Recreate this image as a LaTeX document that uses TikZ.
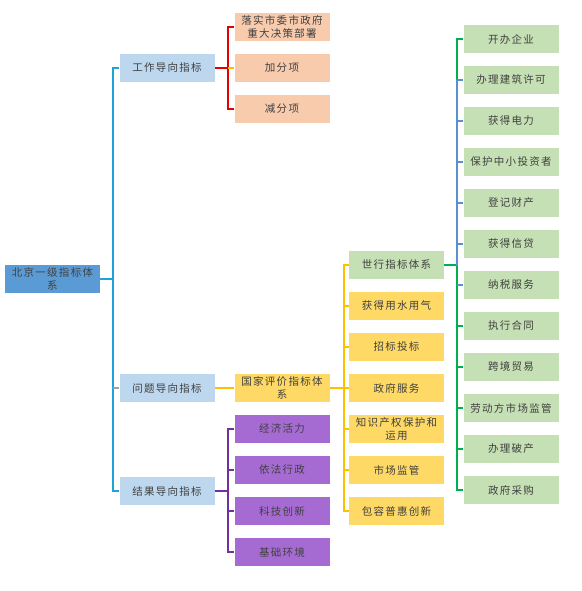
\documentclass[tikz,border=0pt]{standalone}
\usepackage{fontspec}
\newfontfamily\cjk[LetterSpace=12]{Noto Sans CJK SC}
\definecolor{rootc}{HTML}{5B9BD5}
\definecolor{lvone}{HTML}{BDD7EE}
\definecolor{orangec}{HTML}{F8CBAD}
\definecolor{yellowc}{HTML}{FFD966}
\definecolor{purplec}{HTML}{A66BD3}
\definecolor{greenc}{HTML}{C5E0B4}
\definecolor{txtc}{HTML}{404040}
\definecolor{cyanl}{HTML}{1FA2DC}
\definecolor{redl}{HTML}{E60000}
\definecolor{orangel}{HTML}{FFC000}
\definecolor{yellowl}{HTML}{FFC000}
\definecolor{purplel}{HTML}{7030A0}
\definecolor{greenl}{HTML}{00B050}
\definecolor{bluel}{HTML}{5B8FD0}
\definecolor{greyl}{HTML}{A0A0A0}
\begin{document}
\begin{tikzpicture}[x=1pt,y=-1pt,
  box/.style={minimum width=95pt,minimum height=28pt,inner sep=0pt,align=center,
    text=txtc,font=\cjk\fontsize{10.5}{13.5}\selectfont},
  rootbox/.style={box,fill=rootc},
  onebox/.style={box,fill=lvone},
  obox/.style={box,fill=orangec},
  ybox/.style={box,fill=yellowc},
  pbox/.style={box,fill=purplec},
  gbox/.style={box,fill=greenc},
  conn/.style={line width=1.2pt}]
\useasboundingbox (0,0) rectangle (581,591);
% root
\node[rootbox] (root) at (52.5,279) {北京一级指标体\\系};
% level 1
\node[onebox] (work) at (167,68) {工作导向指标};
\node[onebox] (prob) at (167,388) {问题导向指标};
\node[onebox] (res) at (167,491) {结果导向指标};
% orange
\node[obox] (luo) at (282,27) {落实市委市政府\\重大决策部署};
\node[obox] (jia) at (282,68) {加分项};
\node[obox] (jian) at (282,109) {减分项};
% national
\node[ybox] (guo) at (282,388) {国家评价指标体\\系};
% purple
\node[pbox] (p1) at (282,429) {经济活力};
\node[pbox] (p2) at (282,470) {依法行政};
\node[pbox] (p3) at (282,511) {科技创新};
\node[pbox] (p4) at (282,552) {基础环境};
% yellow column
\node[gbox] (wb) at (396.5,265) {世行指标体系};
\node[ybox] (y1) at (396.5,306) {获得用水用气};
\node[ybox] (y2) at (396.5,347) {招标投标};
\node[ybox] (y3) at (396.5,388) {政府服务};
\node[ybox] (y4) at (396.5,429) {知识产权保护和\\运用};
\node[ybox] (y5) at (396.5,470) {市场监管};
\node[ybox] (y6) at (396.5,511) {包容普惠创新};
% green column
\node[gbox] (g1) at (511,39) {开办企业};
\node[gbox] (g2) at (511,80) {办理建筑许可};
\node[gbox] (g3) at (511,121) {获得电力};
\node[gbox] (g4) at (511,162) {保护中小投资者};
\node[gbox] (g5) at (511,203) {登记财产};
\node[gbox] (g6) at (511,244) {获得信贷};
\node[gbox] (g7) at (511,285) {纳税服务};
\node[gbox] (g8) at (511,326) {执行合同};
\node[gbox] (g9) at (511,367) {跨境贸易};
\node[gbox] (g10) at (511,408) {劳动方市场监管};
\node[gbox] (g11) at (511,449) {办理破产};
\node[gbox] (g12) at (511,490) {政府采购};
% bus coordinates
\coordinate (lb) at (113,279);
\coordinate (rb) at (228,68);
\coordinate (pb) at (228,491);
\coordinate (yb) at (344,388);
\coordinate (gb) at (457,265);
% root bus
\draw[conn,cyanl] (root.east) -- (lb);
\draw[conn,cyanl] (work.west) -| (lb) |- (res.west);
\draw[conn,greyl] (lb |- prob.west) -- (prob.west);
% red bus
\draw[conn,redl] (work.east) -- (rb);
\draw[conn,redl] (luo.west) -| (rb |- jian.west) -- (jian.west);
\draw[conn,orangel] (rb) -- (jia.west);
% national
\draw[conn,yellowl] (prob.east) -- (guo.west);
% purple bus
\draw[conn,purplel] (res.east) -- (pb);
\draw[conn,purplel] (p1.west) -| (pb |- p4.west) -- (p4.west);
\foreach \n in {p2,p3} \draw[conn,purplel] (pb |- \n.west) -- (\n.west);
% yellow bus
\draw[conn,yellowl] (guo.east) -- (yb);
\draw[conn,yellowl] (wb.west) -| (yb |- y6.west) -- (y6.west);
\foreach \n in {y1,y2,y3,y4,y5} \draw[conn,yellowl] (yb |- \n.west) -- (\n.west);
% green bus
\draw[conn,greenl] (g1.west) -| (gb |- g12.west) -- (g12.west);
\draw[conn,greenl] (wb.east) -- (gb);
\draw[conn,bluel] (gb |- g2.west) -- ([yshift=-1pt]gb);
\foreach \n in {g2,g3,g4,g5,g6,g7} \draw[conn,bluel] (gb |- \n.west) -- (\n.west);
\foreach \n in {g8,g9,g10,g11} \draw[conn,greenl] (gb |- \n.west) -- (\n.west);
\end{tikzpicture}
\end{document}
